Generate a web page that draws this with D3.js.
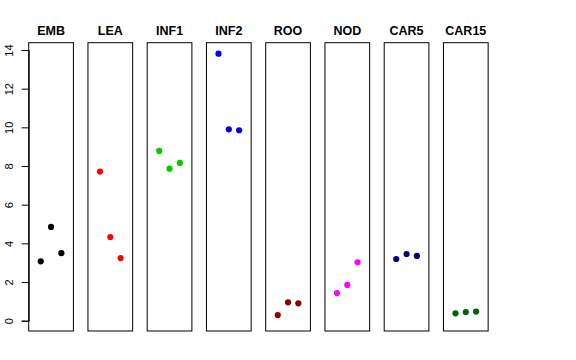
<!DOCTYPE html>
<html><head><meta charset="utf-8">
<script src="https://cdn.jsdelivr.net/npm/d3@7"></script>
<style>body{margin:0;background:#fff}</style>
</head><body>
<svg id="c" width="576" height="360"></svg>
<script>
const categories = ["EMB","LEA","INF1","INF2","ROO","NOD","CAR5","CAR15"];
const colors = ["#000000","#FF0000","#00CD00","#0000FF","#8B0000","#FF00FF","#00008B","#006400"];
const values = [
  [3.07, 4.85, 3.49],
  [7.71, 4.33, 3.24],
  [8.78, 7.86, 8.16],
  [13.81, 9.90, 9.85],
  [0.29, 0.95, 0.90],
  [1.43, 1.85, 3.02],
  [3.19, 3.45, 3.35],
  [0.38, 0.45, 0.47]
];
const yTicks = [0, 2, 4, 6, 8, 10, 12, 14];

const svg = d3.select("#c");
const panelW = 44.7, step = 59.25, left0 = 28.7, panelTop = 42.7, panelBottom = 331;
const y = d3.scaleLinear().domain([0, 14]).range([320.7, 50]);
const xIn = d3.scalePoint().domain([0,1,2]).range([-10.3, 10.3]);

categories.forEach((cat, i) => {
  const x0 = left0 + i * step;
  const g = svg.append("g");
  g.append("rect").attr("x", x0).attr("y", panelTop).attr("width", panelW).attr("height", panelBottom - panelTop)
    .attr("fill", "none").attr("stroke", "#000").attr("stroke-width", 1);
  g.append("text").attr("x", x0 + panelW / 2).attr("y", 35)
    .attr("text-anchor", "middle").attr("font-family", "Liberation Sans, Arial, sans-serif")
    .attr("font-weight", "bold").attr("font-size", 12.5).text(cat);
  g.selectAll("circle").data(values[i]).join("circle")
    .attr("cx", (d, j) => x0 + panelW / 2 + xIn(j))
    .attr("cy", d => y(d)).attr("r", 3.1).attr("fill", colors[i]);
});

const axis = d3.axisLeft(y).tickValues(yTicks).tickSize(7).tickPadding(4).tickFormat(d3.format("d"));
const ag = svg.append("g").attr("transform", `translate(${left0},0)`).call(axis);
ag.select(".domain").attr("stroke", "#000");
ag.selectAll(".tick line").attr("stroke", "#000");
ag.selectAll(".tick text")
  .attr("font-family", "Liberation Sans, Arial, sans-serif").attr("font-size", 11).attr("fill", "#000")
  .attr("text-anchor", "middle").attr("dy", 0).attr("x", 0).attr("y", 0)
  .attr("transform", "translate(-16,0) rotate(-90)");
</script>
</body></html>
